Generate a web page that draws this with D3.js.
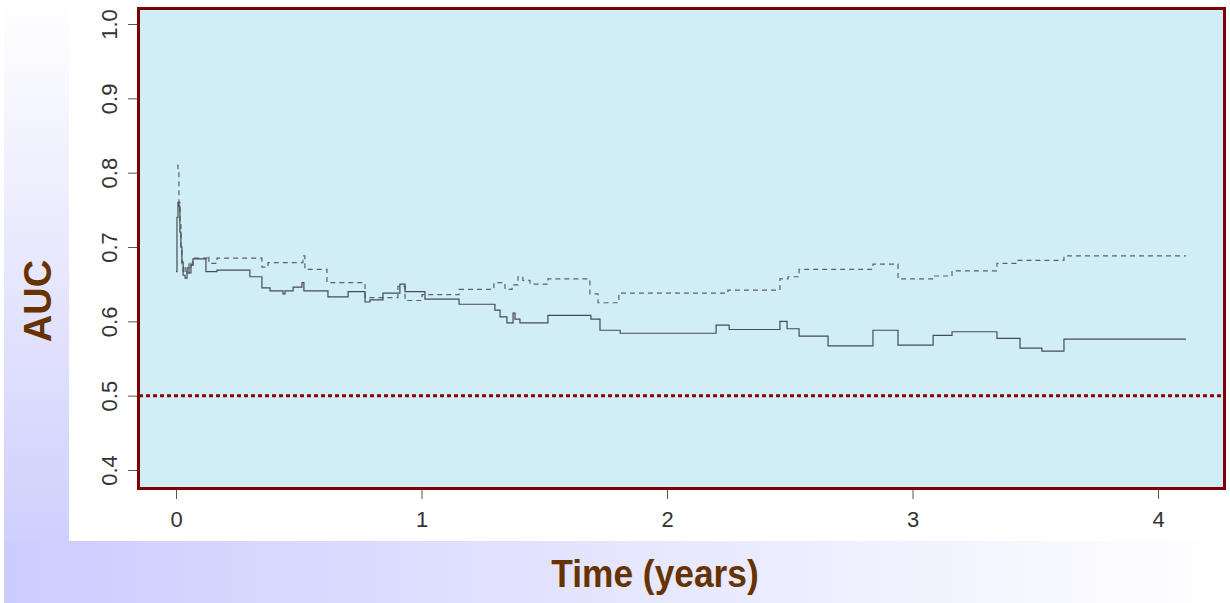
<!DOCTYPE html>
<html>
<head>
<meta charset="utf-8">
<script src="https://cdn.jsdelivr.net/npm/d3@7"></script>
<style>
  html, body { margin: 0; padding: 0; background: #ffffff; }
  svg { display: block; }
</style>
</head>
<body>
<svg id="chart" width="1230" height="603"></svg>
<script>
// Time-dependent AUC, two models, step functions over follow-up time (years)
const solidTime = [0, 0.004, 0.008, 0.012, 0.016, 0.020, 0.024, 0.029, 0.037, 0.045, 0.053, 0.061, 0.069,
  0.122, 0.167, 0.301, 0.350, 0.383, 0.436, 0.444, 0.477, 0.513, 0.521, 0.619, 0.701, 0.770, 0.790,
  0.843, 0.912, 0.933, 1.014, 1.153, 1.299, 1.320, 1.348, 1.373, 1.381, 1.401, 1.515, 1.690, 1.727,
  1.809, 2.200, 2.253, 2.460, 2.489, 2.538, 2.656, 2.839, 2.941, 3.084, 3.161, 3.344, 3.438, 3.527,
  3.617, 4.114];
const solidAUC = [0.667, 0.740, 0.760, 0.755, 0.720, 0.700, 0.680, 0.662, 0.658, 0.672, 0.665, 0.676, 0.684,
  0.667, 0.669, 0.660, 0.645, 0.641, 0.637, 0.641, 0.646, 0.652, 0.641, 0.633, 0.640, 0.626, 0.629,
  0.638, 0.650, 0.640, 0.630, 0.623, 0.615, 0.606, 0.598, 0.611, 0.603, 0.598, 0.608, 0.603, 0.588,
  0.584, 0.595, 0.589, 0.600, 0.590, 0.580, 0.567, 0.588, 0.568, 0.581, 0.586, 0.577, 0.564, 0.560,
  0.576, 0.576];

const dashedTime = [0.004, 0.008, 0.012, 0.016, 0.020, 0.024, 0.029, 0.037, 0.045, 0.053, 0.061, 0.069,
  0.126, 0.134, 0.167, 0.350, 0.375, 0.517, 0.525, 0.615, 0.770, 0.904, 0.933, 1.002, 1.153, 1.295,
  1.340, 1.369, 1.393, 1.413, 1.442, 1.515, 1.686, 1.719, 1.804, 2.248, 2.460, 2.493, 2.538, 2.839,
  2.941, 3.084, 3.161, 3.344, 3.430, 3.617, 4.114];
const dashedAUC = [0.810, 0.800, 0.760, 0.730, 0.700, 0.675, 0.665, 0.672, 0.665, 0.680, 0.672, 0.685,
  0.688, 0.678, 0.685, 0.673, 0.679, 0.688, 0.670, 0.652, 0.632, 0.647, 0.628, 0.636, 0.643, 0.652,
  0.643, 0.649, 0.660, 0.655, 0.650, 0.657, 0.637, 0.625, 0.638, 0.642, 0.657, 0.660, 0.670, 0.677,
  0.657, 0.661, 0.668, 0.678, 0.682, 0.688, 0.688];

const xTicks = [0, 1, 2, 3, 4];
const yTicks = [0.4, 0.5, 0.6, 0.7, 0.8, 0.9, 1.0];
const referenceAUC = 0.5;

const svg = d3.select("#chart");
const W = 1230, H = 603;

// ---- page background ----
const defs = svg.append("defs");
const gLeft = defs.append("linearGradient").attr("id", "leftFade")
  .attr("x1", 0).attr("y1", 0).attr("x2", 0).attr("y2", 1);
gLeft.append("stop").attr("offset", "0%").attr("stop-color", "#ffffff");
gLeft.append("stop").attr("offset", "100%").attr("stop-color", "#cfcffd");
const gBottom = defs.append("linearGradient").attr("id", "bottomFade")
  .attr("x1", 0).attr("y1", 0).attr("x2", 1).attr("y2", 0);
gBottom.append("stop").attr("offset", "0%").attr("stop-color", "#ccccff");
gBottom.append("stop").attr("offset", "100%").attr("stop-color", "#ffffff");

svg.append("rect").attr("x", 0).attr("y", 0).attr("width", W).attr("height", H).attr("fill", "#ffffff");
svg.append("rect").attr("x", 4).attr("y", 0).attr("width", 66).attr("height", 542).attr("fill", "url(#leftFade)");
svg.append("rect").attr("x", 4).attr("y", 541).attr("width", W - 4).attr("height", H - 541).attr("fill", "url(#bottomFade)");
svg.append("rect").attr("x", 69).attr("y", 0).attr("width", W - 69).attr("height", 541).attr("fill", "#ffffff");

// ---- plot region ----
const box = { left: 137, right: 1226, top: 7, bottom: 490 };

const x = d3.scaleLinear().domain([0, 4]).range([176, 1158]);
const y = d3.scaleLinear().domain([0.4, 1.0]).range([470, 24]);

svg.append("rect")
  .attr("x", box.left).attr("y", box.top)
  .attr("width", box.right - box.left).attr("height", box.bottom - box.top)
  .attr("fill", "#d1eef6");

// chance level
svg.append("line")
  .attr("x1", box.left + 2).attr("x2", box.right - 2)
  .attr("y1", y(referenceAUC)).attr("y2", y(referenceAUC))
  .attr("stroke", "#8b0000").attr("stroke-width", 3)
  .attr("stroke-dasharray", "4,3");

const stepLine = d3.line()
  .x(d => x(d[0]))
  .y(d => y(d[1]))
  .curve(d3.curveStepAfter);

const solidPts = d3.zip(solidTime, solidAUC);
const dashedPts = d3.zip(dashedTime, dashedAUC);

svg.append("path")
  .datum(dashedPts)
  .attr("d", stepLine)
  .attr("fill", "none")
  .attr("stroke", "#5a6168")
  .attr("stroke-width", 1.2)
  .attr("stroke-dasharray", "5,4");

svg.append("path")
  .datum(solidPts)
  .attr("d", stepLine)
  .attr("fill", "none")
  .attr("stroke", "#474c52")
  .attr("stroke-width", 1.2);

// frame
svg.append("rect")
  .attr("x", box.left + 1.5).attr("y", box.top + 1.5)
  .attr("width", box.right - box.left - 3).attr("height", box.bottom - box.top - 3)
  .attr("fill", "none")
  .attr("stroke", "#7f0000")
  .attr("stroke-width", 3);

// ---- axes ----
const xAxis = d3.axisBottom(x).tickValues(xTicks).tickFormat(d3.format("d"))
  .tickSize(9).tickPadding(12);
const gx = svg.append("g").attr("transform", `translate(0,${box.bottom})`).call(xAxis);
gx.select(".domain").remove();
gx.selectAll(".tick line").attr("stroke", "#555");
gx.selectAll(".tick text")
  .attr("fill", "#333")
  .style("font-family", "'Liberation Sans', Arial, sans-serif")
  .style("font-size", "22px");

const yAxis = d3.axisLeft(y).tickValues(yTicks).tickFormat(d3.format(".1f"))
  .tickSize(9).tickPadding(12);
const gy = svg.append("g").attr("transform", `translate(${box.left},0)`).call(yAxis);
gy.select(".domain").remove();
gy.selectAll(".tick line").attr("stroke", "#555");
gy.selectAll(".tick text")
  .attr("fill", "#333")
  .attr("x", null).attr("dy", null)
  .attr("text-anchor", "middle")
  .attr("transform", "translate(-20,0) rotate(-90)")
  .style("font-family", "'Liberation Sans', Arial, sans-serif")
  .style("font-size", "22px");

// ---- titles ----
svg.append("text")
  .attr("transform", "translate(51,301) rotate(-90)")
  .attr("text-anchor", "middle")
  .attr("fill", "#663300")
  .style("font-family", "'Liberation Sans', Arial, sans-serif")
  .style("font-weight", "bold")
  .style("font-size", "38px")
  .text("AUC");

svg.append("text")
  .attr("transform", "translate(655,587) scale(0.93,1)")
  .attr("text-anchor", "middle")
  .attr("fill", "#663300")
  .style("font-family", "'Liberation Sans', Arial, sans-serif")
  .style("font-weight", "bold")
  .style("font-size", "38px")
  .text("Time (years)");
</script>
</body>
</html>
